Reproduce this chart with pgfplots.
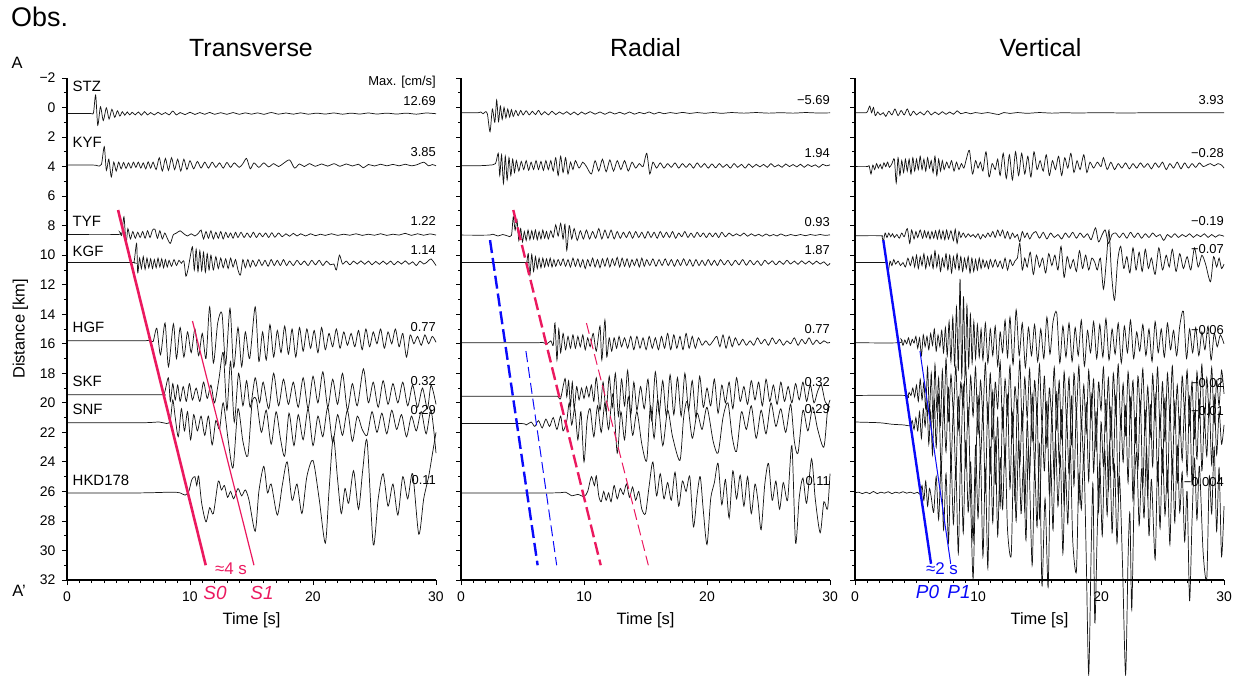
\documentclass[border=0pt]{standalone}
\usepackage{fontspec}
\setmainfont{Liberation Sans}
\usepackage{pgfplots}
\pgfplotsset{compat=1.18}
\definecolor{sred}{RGB}{235,25,95}
\definecolor{pblue}{RGB}{10,10,250}
\newcommand\fTick{\fontsize{14}{16}\selectfont}
\newcommand\fLab{\fontsize{15}{18}\selectfont}
\newcommand\fVal{\fontsize{13}{15}\selectfont}
\newcommand\fTitle{\fontsize{25}{30}\selectfont}
\newcommand\fObs{\fontsize{27}{32}\selectfont}
\newcommand\fAx{\fontsize{16.5}{20}\selectfont}
\newcommand\fAnn{\fontsize{17}{20}\selectfont}
\newcommand\fSP{\fontsize{19}{22}\selectfont\itshape}
\tikzset{
 lab/.style={anchor=mid west, inner sep=0pt, font=\fLab},
 val/.style={anchor=mid east, inner sep=0pt, font=\fVal},
 frame/.style={line width=2.8bp, black, line join=miter},
}
\pgfplotsset{
 seis/.style={
  scale only axis, width=369bp, height=502bp,
  xmin=0, xmax=30, ymin=-2, ymax=32, y dir=reverse,
  axis x line*=bottom, axis y line*=left,
  axis line style={line width=2.6bp, black},
  xtick={0,10,20,30}, xticklabels={0,10,20,30},
  minor x tick num=9, minor y tick num=1,
  ytick={-2,0,2,4,6,8,10,12,14,16,18,20,22,24,26,28,30,32},
  tick align=outside,
  major tick length=5bp, minor tick length=3bp,
  every tick/.style={black, line width=0.8bp},
  tick label style={font=\fTick},
  xticklabel style={yshift=-3bp},
  /pgf/number format/assume math mode=true,
  clip=false,
 },
 tr/.style={black!92, line width=0.72bp, smooth, tension=0.45},
}
\begin{document}
\begin{tikzpicture}
\path[use as bounding box] (0,0) rectangle (1242bp,676bp);
% ===================== Transverse =====================
\begin{axis}[seis, at={(67bp,96bp)}, anchor=south west,
  yticklabels={−2,0,2,4,6,8,10,12,14,16,18,20,22,24,26,28,30,32},
  yticklabel style={xshift=-3bp}]
\addplot[tr] coordinates {(0,0.4)(1.9,0.4)(2.15,0.36)(2.33,-0.85)(2.5,1.2)(2.72,-0.05)(2.95,0.88)(3.2,0.02)(3.42,0.78)(3.65,0.12)(3.88,0.66)(4.1,0.22)(4.3,0.58)(4.5,0.28)(4.7,0.52)(4.9,0.3)(5.1,0.5)(5.3,0.32)(5.55,0.5)(5.8,0.3)(6.05,0.52)(6.3,0.28)(6.55,0.5)(6.8,0.34)(7.1,0.5)(7.4,0.32)(7.7,0.48)(8.0,0.34)(8.3,0.5)(8.6,0.24)(8.9,0.5)(9.2,0.34)(9.6,0.48)(10,0.32)(10.4,0.47)(10.8,0.34)(11.2,0.46)(11.6,0.33)(12,0.46)(12.5,0.35)(13,0.46)(13.5,0.34)(14,0.46)(14.5,0.36)(15,0.45)(15.5,0.36)(16,0.46)(16.6,0.34)(17.2,0.45)(17.8,0.37)(18.4,0.45)(19,0.36)(19.6,0.45)(20.3,0.38)(21,0.44)(21.7,0.37)(22.4,0.45)(23.1,0.38)(23.8,0.44)(24.5,0.37)(25.2,0.44)(26,0.38)(26.8,0.44)(27.6,0.38)(28.4,0.45)(29.2,0.37)(30,0.42)};
\addplot[tr] coordinates {(0,3.9)(2.2,3.9)(2.5,3.95)(2.8,3.85)(3.03,2.65)(3.2,4.25)(3.4,3.5)(3.6,4.7)(3.8,3.7)(4.0,4.3)(4.2,3.7)(4.4,4.15)(4.6,3.72)(4.8,4.12)(5.0,3.75)(5.2,4.1)(5.4,3.7)(5.6,4.05)(5.8,3.7)(6.0,4.1)(6.2,3.75)(6.4,4.15)(6.6,3.68)(6.8,4.1)(7.0,3.7)(7.25,4.2)(7.5,3.4)(7.75,4.3)(8.0,3.45)(8.25,4.25)(8.5,3.4)(8.75,4.2)(9.0,3.5)(9.25,4.3)(9.5,3.5)(9.75,4.2)(10.0,3.6)(10.3,4.15)(10.6,3.65)(10.9,4.1)(11.2,3.7)(11.5,4.1)(11.8,3.7)(12.1,4.05)(12.4,3.75)(12.7,4.1)(13.0,3.72)(13.3,4.05)(13.6,3.75)(14.0,4.05)(14.3,3.8)(14.6,3.45)(14.9,4.15)(15.2,3.75)(15.6,4.05)(16.0,3.75)(16.4,4.02)(16.8,3.8)(17.2,4.0)(17.6,3.78)(18.1,3.55)(18.5,4.1)(18.9,3.82)(19.3,4.0)(19.7,3.8)(20.2,3.98)(20.7,3.82)(21.2,3.97)(21.7,3.8)(22.2,3.98)(22.7,3.82)(23.2,3.96)(23.7,3.84)(24.1,4.08)(24.5,3.86)(25,3.96)(25.5,3.84)(26,3.95)(26.5,3.85)(27,3.95)(27.5,3.84)(28,3.95)(28.5,3.86)(29,3.7)(29.4,3.95)(29.7,3.86)(30,3.95)};
\addplot[tr] coordinates {(0,8.6)(4.1,8.6)(4.3,8.45)(4.45,8.65)(4.63,7.4)(4.8,9.2)(4.95,8.2)(5.15,8.9)(5.35,8.4)(5.55,8.85)(5.75,8.45)(5.95,8.8)(6.15,8.4)(6.35,8.85)(6.55,8.35)(6.75,8.8)(6.95,8.3)(7.15,8.25)(7.35,8.85)(7.55,8.35)(7.75,8.9)(7.95,8.5)(8.15,8.85)(8.4,9.2)(8.65,8.6)(8.9,8.5)(9.2,8.35)(9.5,8.55)(9.8,8.7)(10.1,8.55)(10.4,8.7)(10.7,8.5)(10.9,8.3)(11.1,8.9)(11.3,8.4)(11.5,8.85)(11.7,8.35)(11.9,8.9)(12.1,8.45)(12.3,8.85)(12.5,8.4)(12.7,8.9)(12.9,8.45)(13.1,8.8)(13.3,8.5)(13.5,8.85)(13.7,8.45)(13.9,8.8)(14.15,8.45)(14.4,8.8)(14.65,8.5)(14.9,8.8)(15.15,8.45)(15.4,8.8)(15.65,8.5)(15.9,8.75)(16.15,8.5)(16.4,8.8)(16.65,8.48)(16.9,8.78)(17.2,8.5)(17.5,8.75)(17.8,8.55)(18.1,8.72)(18.4,8.52)(18.7,8.7)(19.0,8.55)(19.4,8.7)(19.8,8.55)(20.2,8.68)(20.6,8.58)(21.0,8.66)(21.5,8.55)(22,8.66)(22.5,8.58)(23,8.65)(23.5,8.55)(24,8.66)(24.5,8.58)(25,8.65)(25.5,8.55)(26,8.66)(26.5,8.58)(27,8.64)(27.5,8.52)(28,8.66)(28.5,8.55)(29,8.65)(29.5,8.56)(30,8.64)};
\addplot[tr] coordinates {(0,10.5)(5.2,10.5)(5.45,10.45)(5.66,9.2)(5.75,11.2)(5.9,10.2)(6.05,10.9)(6.2,10.1)(6.35,10.95)(6.5,10.2)(6.65,10.85)(6.8,10.25)(6.95,10.9)(7.1,10.3)(7.25,10.85)(7.4,10.2)(7.55,10.8)(7.7,10.25)(7.85,10.85)(8.0,10.3)(8.15,10.8)(8.3,10.35)(8.5,10.75)(8.7,10.3)(8.9,10.7)(9.1,10.35)(9.3,10.55)(9.5,10.4)(9.67,11.42)(9.85,10.9)(10.0,10.2)(10.2,9.44)(10.35,11.0)(10.5,9.6)(10.65,11.1)(10.8,9.7)(10.95,11.05)(11.1,9.8)(11.25,11.15)(11.4,9.9)(11.55,11.0)(11.7,10.0)(11.9,11.0)(12.1,10.1)(12.3,10.9)(12.5,10.2)(12.7,10.85)(12.9,10.25)(13.1,10.9)(13.3,10.2)(13.5,10.8)(13.7,10.3)(13.9,11.0)(14.1,11.35)(14.3,10.3)(14.5,10.85)(14.7,10.3)(14.9,10.8)(15.1,10.35)(15.35,10.75)(15.6,10.3)(15.85,10.7)(16.1,10.35)(16.35,10.75)(16.6,10.3)(16.85,10.7)(17.1,10.35)(17.35,10.7)(17.6,10.3)(17.85,10.7)(18.1,10.4)(18.4,10.7)(18.7,10.35)(19.0,10.65)(19.3,10.4)(19.6,10.7)(19.9,10.35)(20.2,10.65)(20.5,10.35)(20.8,10.7)(21.1,10.4)(21.4,10.65)(21.7,10.6)(21.9,11.0)(22.15,10.0)(22.4,10.6)(22.7,10.4)(23.0,10.65)(23.3,10.4)(23.6,10.6)(23.9,10.38)(24.2,10.62)(24.5,10.4)(24.8,10.65)(25.1,10.42)(25.4,10.62)(25.7,10.4)(26.0,10.62)(26.3,10.4)(26.6,10.65)(26.9,10.42)(27.2,10.6)(27.5,10.38)(27.8,10.62)(28.1,10.45)(28.4,10.7)(28.7,10.4)(29.0,10.6)(29.3,10.45)(29.6,10.25)(30,10.7)};
\addplot[tr] coordinates {(0,15.8)(6.0,15.8)(6.7,15.75)(7.0,15.85)(7.3,14.95)(7.6,16.75)(7.97,14.6)(8.25,17.55)(8.65,14.65)(8.9,17.0)(9.2,14.9)(9.5,16.9)(9.8,15.2)(10.1,16.6)(10.4,15.0)(10.7,16.8)(11.0,15.3)(11.3,17.0)(11.6,13.5)(11.9,17.3)(12.25,14.6)(12.6,13.95)(12.9,17.4)(13.25,13.6)(13.55,17.6)(13.9,14.9)(14.2,17.55)(14.5,15.2)(14.85,17.0)(15.3,13.5)(15.6,17.2)(15.9,15.2)(16.2,17.1)(16.5,14.7)(16.8,16.9)(17.1,15.1)(17.4,16.6)(17.7,14.8)(18.0,16.7)(18.3,15.0)(18.6,16.9)(18.9,14.9)(19.2,16.5)(19.5,15.0)(19.8,16.3)(20.1,15.1)(20.4,16.6)(20.7,14.9)(21.0,16.4)(21.3,15.3)(21.6,16.2)(21.9,15.0)(22.2,16.3)(22.5,15.2)(22.8,16.1)(23.1,15.3)(23.4,16.2)(23.7,15.1)(24.0,16.4)(24.3,15.0)(24.6,16.2)(24.9,15.2)(25.2,16.0)(25.5,15.0)(25.8,16.3)(26.1,15.2)(26.4,16.0)(26.7,15.0)(27.0,16.2)(27.3,15.3)(27.6,16.9)(27.9,15.4)(28.2,16.0)(28.5,15.5)(28.8,16.1)(29.1,15.4)(29.4,16.0)(29.7,15.5)(30,15.9)};
\addplot[tr] coordinates {(0,19.45)(7.5,19.45)(7.9,19.4)(8.24,18.3)(8.4,19.9)(8.6,18.7)(8.8,19.8)(9.0,18.8)(9.2,19.9)(9.45,18.9)(9.7,19.9)(9.95,18.7)(10.2,19.8)(10.5,19.0)(10.8,19.9)(11.1,18.6)(11.4,19.7)(11.7,18.8)(12.0,20.0)(12.35,18.4)(12.7,16.6)(13.0,20.5)(13.3,17.2)(13.6,21.3)(13.95,18.0)(14.3,20.2)(14.6,18.5)(14.9,20.3)(15.3,18.3)(15.65,20.0)(15.95,18.6)(16.4,20.4)(16.8,18.0)(17.2,20.2)(17.6,18.4)(18.0,20.1)(18.4,18.6)(18.8,20.3)(19.2,18.3)(19.6,20.4)(20.0,18.2)(20.4,20.0)(20.8,17.9)(21.2,20.3)(21.6,18.4)(22.0,20.1)(22.4,18.0)(22.8,20.5)(23.2,18.7)(23.6,20.2)(24.1,17.7)(24.5,20.0)(24.9,18.6)(25.3,20.3)(25.7,18.5)(26.1,20.1)(26.5,18.7)(26.9,20.0)(27.3,18.6)(27.7,20.2)(28.1,18.8)(28.5,20.3)(28.9,19.0)(29.3,20.4)(29.6,18.8)(30,20.1)};
\addplot[tr] coordinates {(0,21.35)(6.0,21.35)(7.5,21.3)(8.1,21.4)(8.4,21.2)(8.6,19.8)(8.8,21.0)(9.05,22.3)(9.3,20.4)(9.55,21.9)(9.8,20.6)(10.05,22.5)(10.3,20.8)(10.6,21.9)(10.9,20.9)(11.2,22.2)(11.5,20.9)(11.8,22.85)(12.1,21.2)(12.4,21.8)(12.7,20.0)(13.1,22.5)(13.5,24.4)(13.9,20.4)(14.3,22.6)(14.7,23.6)(15.05,20.0)(15.4,19.8)(15.8,22.0)(16.2,20.5)(16.6,22.8)(17.0,20.6)(17.35,22.4)(17.7,23.6)(18.05,20.7)(18.45,22.9)(18.8,20.8)(19.2,22.5)(19.6,20.4)(20.0,22.9)(20.4,20.9)(20.8,22.3)(21.2,20.3)(21.6,22.7)(22.0,20.8)(22.4,22.2)(22.8,20.5)(23.2,22.6)(23.6,20.9)(24.0,21.8)(24.4,22.2)(24.8,20.6)(25.2,22.0)(25.6,20.7)(26.0,22.1)(26.4,20.5)(26.8,21.8)(27.2,20.8)(27.6,22.3)(28.0,20.9)(28.4,21.9)(28.8,20.6)(29.2,22.1)(29.6,20.5)(30,23.4)};
\addplot[tr] coordinates {(0,26.1)(6,26.1)(8.5,26.05)(9.2,26.1)(9.6,26.25)(9.9,26.0)(10.15,25.2)(10.4,25.0)(10.55,25.6)(10.7,24.96)(10.95,26.8)(11.3,28.06)(11.6,27.1)(11.9,27.5)(12.3,25.3)(12.55,25.9)(12.8,25.6)(13.05,26.4)(13.3,26.0)(13.55,26.5)(13.9,25.8)(14.2,26.3)(14.5,25.9)(14.8,26.6)(15.3,28.7)(15.6,26.0)(16.0,24.3)(16.3,26.1)(16.6,25.5)(17.1,27.6)(17.5,25.6)(17.9,24.0)(18.3,26.6)(18.7,25.5)(19.1,27.5)(19.5,25.0)(20.0,23.9)(20.5,26.5)(21.0,29.5)(21.3,26.0)(21.65,22.3)(22.0,25.2)(22.3,27.5)(22.6,25.8)(22.9,26.8)(23.3,24.6)(23.7,27.2)(24.05,24.5)(24.4,22.6)(24.9,29.6)(25.3,26.5)(25.7,24.8)(26.1,27.0)(26.5,25.5)(26.9,27.6)(27.3,25.0)(27.7,26.5)(28.1,24.8)(28.6,28.9)(29.0,26.5)(29.4,25.0)(29.7,23.5)(30,22.0)};
\addplot[sred, line width=2.6bp] coordinates {(4.15,6.94)(11.28,31.0)};
\addplot[sred, line width=1.2bp] coordinates {(10.2,14.46)(15.2,31.0)};
\draw[frame] (axis cs:0,-2) -- (axis cs:0,32) -- (axis cs:30,32);
\node[lab] at (axis cs:0.45,-1.28) {STZ};
\node[lab] at (axis cs:0.45,2.52) {KYF};
\node[lab] at (axis cs:0.45,7.9) {TYF};
\node[lab] at (axis cs:0.45,9.88) {KGF};
\node[lab] at (axis cs:0.45,15.07) {HGF};
\node[lab] at (axis cs:0.45,18.72) {SKF};
\node[lab] at (axis cs:0.45,20.63) {SNF};
\node[lab] at (axis cs:0.45,25.4) {HKD178};
\node[val] at (axis cs:30,-1.66) {Max. [cm/s]};
\node[val] at (axis cs:30,-0.31) {12.69};
\node[val] at (axis cs:30,3.17) {3.85};
\node[val] at (axis cs:30,7.84) {1.22};
\node[val] at (axis cs:30,9.77) {1.14};
\node[val] at (axis cs:30,14.96) {0.77};
\node[val] at (axis cs:30,18.64) {0.32};
\node[val] at (axis cs:30,20.6) {0.29};
\node[val] at (axis cs:30,25.35) {0.11};
\end{axis}
% ===================== Radial =====================
\begin{axis}[seis, at={(461bp,96bp)}, anchor=south west, yticklabels={}]
\addplot[tr] coordinates {(0,0.35)(1.4,0.35)(1.6,0.3)(1.8,0.42)(2.0,0.28)(2.15,0.45)(2.36,1.64)(2.55,0.1)(2.75,1.0)(2.9,-0.5)(3.05,0.95)(3.2,-0.1)(3.35,0.8)(3.5,0.0)(3.65,0.7)(3.8,0.1)(3.95,0.65)(4.1,0.15)(4.25,0.6)(4.45,0.2)(4.65,0.55)(4.85,0.2)(5.05,0.5)(5.3,0.22)(5.55,0.5)(5.8,0.25)(6.05,0.48)(6.3,0.2)(6.55,0.5)(6.8,0.28)(7.1,0.5)(7.4,0.25)(7.7,0.48)(8.0,0.3)(8.3,0.45)(8.6,0.28)(8.9,0.48)(9.2,0.3)(9.5,0.5)(9.8,0.3)(10.1,0.45)(10.5,0.28)(10.9,0.45)(11.3,0.3)(11.7,0.46)(12.1,0.3)(12.5,0.44)(12.9,0.32)(13.3,0.45)(13.7,0.3)(14.1,0.45)(14.5,0.33)(14.9,0.42)(15.3,0.3)(15.7,0.44)(16.1,0.32)(16.5,0.42)(17,0.34)(17.5,0.4)(18,0.33)(18.6,0.4)(19.2,0.34)(19.8,0.39)(20.5,0.34)(21.2,0.39)(22,0.34)(23,0.38)(24,0.34)(25,0.38)(26,0.35)(27,0.38)(28,0.34)(29,0.37)(30,0.36)};
\addplot[tr] coordinates {(0,3.94)(1.5,3.94)(2.3,3.9)(2.8,3.8)(3.03,3.1)(3.15,4.6)(3.3,3.2)(3.45,5.14)(3.6,3.3)(3.75,4.9)(3.9,3.4)(4.05,4.6)(4.2,3.5)(4.35,4.4)(4.5,3.6)(4.7,4.3)(4.9,3.65)(5.1,4.2)(5.3,3.6)(5.5,4.25)(5.7,3.7)(5.9,4.2)(6.1,3.6)(6.3,4.2)(6.5,3.65)(6.7,4.25)(6.9,3.6)(7.1,4.2)(7.3,3.6)(7.5,4.3)(7.7,3.4)(7.9,4.6)(8.1,3.3)(8.3,4.4)(8.5,3.4)(8.7,4.5)(8.9,3.7)(9.1,4.2)(9.3,3.6)(9.6,4.1)(9.9,3.7)(10.2,4.0)(10.6,4.5)(10.9,3.6)(11.2,4.3)(11.5,3.5)(11.8,4.35)(12.1,3.55)(12.4,4.3)(12.7,3.6)(13.0,4.2)(13.3,3.6)(13.6,4.3)(13.9,3.7)(14.2,4.1)(14.5,3.8)(14.8,4.0)(15.1,3.1)(15.35,4.5)(15.6,3.7)(15.9,4.1)(16.2,3.75)(16.5,4.1)(16.8,3.8)(17.1,4.05)(17.4,3.75)(17.7,4.1)(18.0,3.8)(18.3,4.05)(18.6,3.8)(18.9,4.1)(19.2,3.75)(19.5,4.05)(19.8,3.8)(20.1,4.1)(20.4,3.82)(20.7,4.08)(21.0,3.8)(21.3,4.05)(21.6,3.85)(21.9,4.1)(22.2,3.8)(22.5,4.05)(22.8,3.85)(23.1,4.1)(23.4,3.82)(23.7,4.05)(24.0,3.85)(24.3,4.02)(24.6,3.85)(24.9,4.05)(25.2,3.8)(25.5,4.02)(25.8,3.88)(26.1,4.05)(26.4,3.82)(26.7,4.0)(27.0,3.86)(27.3,4.02)(27.6,3.84)(27.9,4.05)(28.2,3.86)(28.5,4.0)(28.8,3.88)(29.1,4.05)(29.4,3.85)(29.7,3.95)(30,3.88)};
\addplot[tr] coordinates {(0,8.64)(2.2,8.64)(2.6,8.58)(3.0,8.7)(3.4,8.6)(3.8,8.7)(4.1,8.66)(4.25,7.4)(4.4,8.3)(4.55,7.6)(4.7,9.0)(4.85,8.2)(5.0,9.1)(5.15,8.4)(5.3,9.0)(5.45,8.3)(5.6,8.95)(5.75,8.35)(5.9,8.9)(6.05,8.3)(6.2,8.95)(6.35,8.4)(6.5,8.9)(6.65,8.3)(6.8,8.85)(6.95,8.4)(7.1,8.9)(7.3,8.35)(7.5,8.8)(7.7,7.95)(7.9,8.7)(8.1,7.85)(8.3,8.9)(8.45,7.9)(8.6,9.66)(8.8,8.0)(9.0,8.9)(9.2,8.2)(9.45,9.0)(9.7,8.35)(9.95,8.9)(10.2,8.3)(10.45,8.9)(10.7,8.4)(10.95,8.85)(11.2,8.2)(11.45,8.9)(11.7,8.3)(11.95,8.85)(12.2,8.3)(12.45,8.9)(12.7,8.4)(12.95,8.85)(13.2,8.45)(13.45,8.8)(13.7,8.4)(13.95,8.85)(14.2,8.4)(14.45,8.8)(14.7,8.45)(14.95,8.85)(15.2,8.4)(15.45,8.8)(15.7,8.45)(15.95,8.85)(16.2,8.4)(16.45,8.8)(16.7,8.45)(16.95,8.8)(17.2,8.4)(17.45,8.85)(17.7,8.5)(17.95,8.75)(18.2,8.4)(18.45,8.8)(18.7,8.5)(18.95,8.8)(19.2,8.45)(19.45,8.75)(19.7,8.5)(19.95,8.8)(20.2,8.5)(20.45,8.75)(20.7,8.5)(20.95,8.8)(21.2,8.45)(21.5,8.75)(21.8,8.5)(22.1,8.7)(22.4,8.55)(22.7,8.7)(23.0,8.5)(23.3,8.72)(23.6,8.55)(23.9,8.7)(24.2,8.58)(24.5,8.72)(24.8,8.56)(25.1,8.7)(25.4,8.6)(25.7,8.7)(26.0,8.56)(26.4,8.7)(26.8,8.6)(27.2,8.68)(27.6,8.6)(28.0,8.68)(28.4,8.6)(28.8,8.66)(29.2,8.6)(29.6,8.66)(30,8.62)};
\addplot[tr] coordinates {(0,10.5)(5.2,10.5)(5.35,10.45)(5.47,9.9)(5.6,11.36)(5.75,9.95)(5.9,11.1)(6.05,10.1)(6.2,10.9)(6.35,10.2)(6.5,10.85)(6.65,10.2)(6.8,10.8)(6.95,10.25)(7.1,10.75)(7.25,10.2)(7.4,10.8)(7.55,10.3)(7.7,10.75)(7.9,10.3)(8.1,10.7)(8.3,10.25)(8.5,10.75)(8.7,10.3)(8.9,10.8)(9.1,10.2)(9.3,10.75)(9.5,10.25)(9.7,10.8)(9.9,10.3)(10.1,10.9)(10.3,10.3)(10.5,10.75)(10.7,10.2)(10.9,10.8)(11.1,10.3)(11.3,10.85)(11.5,10.25)(11.7,10.75)(11.9,10.2)(12.1,10.8)(12.3,10.25)(12.5,10.7)(12.7,10.15)(12.9,10.8)(13.1,10.2)(13.3,10.75)(13.5,10.25)(13.7,10.8)(13.9,10.3)(14.1,10.7)(14.3,10.25)(14.5,10.8)(14.7,10.2)(14.9,10.75)(15.1,10.3)(15.35,10.7)(15.6,10.25)(15.85,10.75)(16.1,10.3)(16.35,10.7)(16.6,10.25)(16.85,10.7)(17.1,10.3)(17.35,10.75)(17.6,10.3)(17.85,10.7)(18.1,10.25)(18.35,10.7)(18.6,10.3)(18.85,10.75)(19.1,10.3)(19.35,10.7)(19.6,10.35)(19.85,10.7)(20.1,10.3)(20.35,10.68)(20.6,10.35)(20.85,10.7)(21.1,10.3)(21.4,10.65)(21.7,10.35)(22.0,10.7)(22.3,10.35)(22.6,10.65)(22.9,10.3)(23.2,10.68)(23.5,10.35)(23.8,10.65)(24.1,10.38)(24.4,10.7)(24.7,10.35)(25.0,10.6)(25.3,10.38)(25.6,10.65)(25.9,10.4)(26.2,10.62)(26.5,10.35)(26.8,10.6)(27.1,10.4)(27.4,10.62)(27.7,10.38)(28.0,10.6)(28.3,10.4)(28.6,10.62)(28.9,10.4)(29.2,10.6)(29.5,10.45)(29.8,10.7)(30,10.55)};
\addplot[tr] coordinates {(0,15.93)(6.0,15.93)(6.6,15.9)(7.0,16.0)(7.3,15.8)(7.5,16.1)(7.64,14.6)(7.8,17.1)(7.95,15.0)(8.1,16.6)(8.3,15.3)(8.5,16.4)(8.7,15.5)(8.9,16.3)(9.1,15.4)(9.3,16.3)(9.5,15.5)(9.7,16.2)(9.9,15.4)(10.1,16.4)(10.3,15.6)(10.5,16.2)(10.75,15.3)(11.0,16.5)(11.3,14.8)(11.45,17.1)(11.7,14.4)(11.85,16.9)(12.05,15.6)(12.25,16.5)(12.45,15.6)(12.65,16.3)(12.85,15.5)(13.05,16.2)(13.3,15.6)(13.55,16.3)(13.8,15.5)(14.05,16.4)(14.3,15.5)(14.55,16.3)(14.8,15.6)(15.05,16.4)(15.3,15.5)(15.55,16.3)(15.8,15.6)(16.05,16.4)(16.3,15.5)(16.55,16.3)(16.8,15.3)(17.05,16.4)(17.3,15.4)(17.55,16.3)(17.8,15.5)(18.05,16.4)(18.3,15.3)(18.55,16.3)(18.8,15.5)(19.05,16.3)(19.3,15.6)(19.6,16.1)(19.9,15.8)(20.2,16.1)(20.5,15.8)(20.8,15.5)(21.05,16.2)(21.3,15.4)(21.55,16.3)(21.8,15.5)(22.05,16.2)(22.3,15.6)(22.6,16.1)(22.9,15.7)(23.2,16.1)(23.5,15.8)(23.8,16.1)(24.1,15.6)(24.4,16.0)(24.7,15.7)(25.0,16.1)(25.3,15.6)(25.6,16.0)(25.9,15.7)(26.2,16.1)(26.5,15.8)(26.8,16.0)(27.1,15.6)(27.4,16.1)(27.7,15.7)(28.0,16.0)(28.3,15.6)(28.6,16.05)(28.9,15.75)(29.2,16.0)(29.5,15.8)(29.8,15.95)(30,15.9)};
\addplot[tr] coordinates {(0,19.55)(7.4,19.55)(7.9,19.6)(8.1,19.7)(8.46,18.35)(8.6,19.6)(8.75,18.5)(8.9,20.2)(9.05,18.6)(9.2,20.4)(9.4,18.9)(9.6,19.8)(9.8,19.0)(10.0,19.7)(10.2,18.9)(10.4,19.6)(10.6,18.8)(10.8,19.9)(11.0,18.3)(11.3,20.5)(11.55,18.6)(11.8,20.6)(12.05,18.2)(12.3,20.3)(12.55,18.0)(12.8,20.9)(13.05,18.4)(13.3,20.2)(13.55,17.8)(13.8,20.8)(14.05,18.6)(14.3,20.5)(14.6,18.9)(14.9,20.4)(15.2,18.4)(15.5,21.2)(15.8,17.9)(16.1,20.7)(16.4,18.5)(16.7,20.9)(17.0,18.1)(17.3,20.8)(17.6,18.3)(17.9,20.9)(18.2,18.0)(18.5,20.5)(18.8,18.5)(19.1,21.0)(19.4,18.2)(19.7,20.3)(20.0,19.0)(20.3,20.2)(20.6,18.4)(20.9,20.7)(21.2,18.8)(21.5,20.0)(21.8,18.6)(22.1,20.4)(22.4,18.3)(22.7,19.9)(23.0,18.9)(23.3,20.1)(23.6,18.5)(23.9,19.8)(24.2,18.6)(24.5,20.2)(24.8,18.4)(25.1,19.9)(25.4,18.8)(25.7,20.1)(26.0,18.6)(26.3,19.9)(26.6,18.9)(26.9,20.0)(27.2,18.7)(27.5,19.8)(27.8,18.6)(28.1,19.9)(28.4,18.8)(28.7,20.0)(29.0,19.2)(29.3,18.8)(29.6,19.9)(30,20.3)};
\addplot[tr] coordinates {(0,21.4)(4.8,21.4)(5.3,21.5)(5.7,21.3)(6.0,21.6)(6.3,21.2)(6.6,21.7)(6.9,21.1)(7.2,21.6)(7.5,21.0)(7.8,21.8)(8.1,20.9)(8.3,21.9)(8.6,21.2)(8.8,20.0)(9.0,21.5)(9.25,20.4)(9.5,22.5)(9.75,20.6)(10.0,24.0)(10.25,21.2)(10.5,20.4)(10.8,22.3)(11.1,20.2)(11.4,22.0)(11.7,20.0)(12.0,21.8)(12.35,19.4)(12.7,23.4)(13.0,20.6)(13.3,22.5)(13.6,19.6)(13.95,22.2)(14.3,20.6)(14.7,22.8)(15.1,23.9)(15.4,20.2)(15.7,22.4)(16.0,19.8)(16.4,22.9)(16.8,20.5)(17.2,22.3)(17.8,23.9)(18.1,21.0)(18.4,19.9)(18.8,22.4)(19.2,20.7)(19.6,21.8)(20.0,20.3)(20.5,22.6)(20.9,23.4)(21.3,21.0)(21.7,20.0)(22.05,22.3)(22.4,23.3)(22.8,20.6)(23.2,21.8)(23.6,20.2)(24.0,22.4)(24.4,20.5)(24.8,22.1)(25.2,20.0)(25.6,21.6)(26.0,20.4)(26.4,22.0)(26.8,20.1)(27.1,22.6)(27.4,23.4)(27.8,20.5)(28.2,21.9)(28.6,20.3)(29.0,21.8)(29.5,23.0)(29.8,20.5)(30,19.8)};
\addplot[tr] coordinates {(0,26.1)(7.5,26.1)(8.5,26.05)(9.0,26.3)(9.5,26.2)(10.0,26.35)(10.3,26.0)(10.6,25.0)(10.85,25.6)(11.0,24.95)(11.2,26.3)(11.4,26.7)(11.6,26.0)(11.8,26.6)(12.0,26.1)(12.2,26.7)(12.45,25.6)(12.7,26.5)(12.95,25.8)(13.2,26.2)(13.45,25.5)(13.7,26.4)(13.95,25.7)(14.2,26.6)(14.45,26.0)(14.7,27.2)(15.0,27.5)(15.3,25.6)(15.6,24.0)(15.9,26.3)(16.2,24.8)(16.5,26.5)(16.8,25.4)(17.1,26.6)(17.4,24.7)(17.7,27.0)(18.0,25.3)(18.3,26.0)(18.6,25.0)(18.9,28.4)(19.2,26.2)(19.45,25.0)(19.7,27.3)(20.0,29.6)(20.3,26.5)(20.6,25.4)(20.9,24.1)(21.2,26.9)(21.5,25.2)(21.8,27.8)(22.1,24.6)(22.4,26.5)(22.7,24.9)(23.0,27.0)(23.3,25.0)(23.6,27.5)(23.9,25.5)(24.15,26.7)(24.4,28.6)(24.7,25.5)(25.0,24.1)(25.3,26.6)(25.6,25.3)(25.9,27.2)(26.2,25.4)(26.55,26.6)(26.9,22.9)(27.2,29.5)(27.5,26.4)(27.8,25.1)(28.1,26.8)(28.5,23.8)(28.8,26.5)(29.2,28.8)(29.5,26.7)(29.8,27.2)(30,24.8)};
\addplot[pblue, line width=2.4bp, dash pattern=on 13bp off 5bp] coordinates {(2.36,8.98)(6.23,31.0)};
\addplot[pblue, line width=1bp, dash pattern=on 11bp off 5bp] coordinates {(5.28,16.5)(7.78,31.0)};
\addplot[sred, line width=2.4bp, dash pattern=on 13bp off 5bp] coordinates {(4.25,6.94)(11.36,31.0)};
\addplot[sred, line width=1bp, dash pattern=on 11bp off 5bp] coordinates {(10.2,14.6)(15.23,31.0)};
\draw[frame] (axis cs:0,-2) -- (axis cs:0,32) -- (axis cs:30,32);
\node[val] at (axis cs:30,-0.39) {−5.69};
\node[val] at (axis cs:30,3.22) {1.94};
\node[val] at (axis cs:30,7.89) {0.93};
\node[val] at (axis cs:30,9.77) {1.87};
\node[val] at (axis cs:30,15.1) {0.77};
\node[val] at (axis cs:30,18.73) {0.32};
\node[val] at (axis cs:30,20.54) {0.29};
\node[val] at (axis cs:30,25.42) {0.11};
\end{axis}
% ===================== Vertical =====================
\begin{axis}[seis, at={(855bp,96bp)}, anchor=south west, yticklabels={}]
\addplot[tr] coordinates {(0,0.35)(0.9,0.35)(1.05,0.2)(1.2,-0.1)(1.35,0.35)(1.5,0.0)(1.65,0.55)(1.85,0.3)(2.05,0.5)(2.3,0.35)(2.5,0.6)(2.75,0.25)(3.0,0.5)(3.25,0.1)(3.5,0.55)(3.75,0.2)(4.0,0.5)(4.25,0.1)(4.5,0.55)(4.75,0.25)(5.0,0.5)(5.3,0.3)(5.6,0.5)(5.9,0.22)(6.2,0.5)(6.5,0.3)(6.8,0.48)(7.1,0.28)(7.4,0.46)(7.7,0.3)(8.0,0.46)(8.3,0.22)(8.6,0.42)(9.0,0.33)(9.4,0.42)(9.8,0.34)(10.3,0.4)(10.8,0.34)(11.3,0.42)(11.7,0.47)(12.1,0.34)(12.6,0.4)(13.2,0.34)(14,0.39)(15,0.34)(16,0.38)(17,0.35)(18,0.37)(20,0.35)(22,0.37)(24,0.35)(26,0.36)(28,0.35)(30,0.35)};
\addplot[tr] coordinates {(0,4.0)(1.0,4.0)(1.15,3.95)(1.3,4.5)(1.45,3.9)(1.6,4.2)(1.75,3.8)(1.9,4.1)(2.05,3.85)(2.2,4.15)(2.35,3.75)(2.5,4.0)(2.65,3.7)(2.8,4.05)(3.0,3.8)(3.2,3.5)(3.35,5.1)(3.5,3.4)(3.65,4.6)(3.8,3.6)(3.95,4.4)(4.1,3.5)(4.25,4.3)(4.4,3.5)(4.55,4.5)(4.7,3.4)(4.85,4.3)(5.0,3.5)(5.15,4.2)(5.3,3.3)(5.45,4.2)(5.6,3.5)(5.75,4.3)(5.9,3.4)(6.05,4.1)(6.2,3.6)(6.35,4.4)(6.5,3.3)(6.65,4.6)(6.8,3.5)(6.95,4.3)(7.1,3.6)(7.25,4.2)(7.45,3.7)(7.65,4.1)(7.85,3.6)(8.05,4.3)(8.25,3.7)(8.45,4.2)(8.65,3.8)(8.85,4.1)(9.05,3.5)(9.3,2.9)(9.55,4.5)(9.8,3.6)(10.0,4.1)(10.2,3.7)(10.4,4.3)(10.65,3.0)(10.9,4.7)(11.15,3.8)(11.4,4.2)(11.6,3.5)(11.8,4.6)(12.05,3.1)(12.3,4.8)(12.55,3.2)(12.8,4.9)(13.05,3.0)(13.3,4.6)(13.55,3.1)(13.8,4.5)(14.05,3.3)(14.3,4.7)(14.55,3.0)(14.8,4.2)(15.05,3.6)(15.3,4.3)(15.55,3.2)(15.8,4.6)(16.05,3.6)(16.3,4.2)(16.55,3.3)(16.8,4.6)(17.05,3.4)(17.3,4.1)(17.55,3.1)(17.8,4.4)(18.05,3.6)(18.3,4.2)(18.6,3.2)(18.85,4.4)(19.1,3.7)(19.4,4.1)(19.7,3.7)(20.0,4.0)(20.2,3.4)(20.5,4.2)(20.8,3.7)(21.1,4.2)(21.4,3.8)(21.7,4.1)(22.0,3.75)(22.3,4.15)(22.6,3.8)(22.9,4.1)(23.2,3.75)(23.5,4.05)(23.8,3.8)(24.1,4.15)(24.4,3.75)(24.7,4.05)(25.0,3.7)(25.3,4.2)(25.6,3.8)(25.9,4.1)(26.2,3.7)(26.5,4.15)(26.8,3.75)(27.1,4.1)(27.4,3.8)(27.7,4.05)(28.0,3.75)(28.3,4.0)(28.6,3.9)(28.9,3.8)(29.2,3.95)(29.5,3.8)(29.8,3.9)(30,4.1)};
\addplot[tr] coordinates {(0,8.68)(2.1,8.68)(2.2,8.75)(2.3,9.05)(2.45,8.5)(2.6,8.8)(2.75,8.5)(2.9,8.75)(3.05,8.55)(3.2,8.8)(3.4,8.6)(3.6,8.85)(3.8,8.5)(4.0,8.75)(4.25,8.2)(4.45,9.2)(4.6,8.3)(4.8,8.9)(4.95,8.4)(5.1,8.8)(5.3,8.3)(5.5,8.85)(5.65,8.35)(5.8,8.8)(5.95,8.4)(6.1,8.9)(6.25,8.4)(6.4,8.85)(6.55,8.35)(6.7,8.9)(6.85,8.3)(7.0,8.9)(7.15,8.35)(7.3,8.95)(7.45,8.3)(7.6,8.9)(7.8,8.35)(8.0,9.0)(8.15,8.25)(8.3,9.2)(8.45,8.4)(8.6,8.8)(8.8,8.5)(9.0,8.8)(9.2,8.55)(9.4,8.75)(9.6,8.6)(9.8,8.8)(10.0,8.55)(10.2,8.9)(10.4,8.6)(10.6,8.8)(10.8,8.5)(11.0,8.75)(11.2,8.4)(11.4,8.8)(11.6,8.3)(11.8,8.7)(12.0,8.3)(12.2,8.85)(12.4,8.4)(12.6,8.9)(12.8,8.5)(13.0,8.8)(13.2,8.6)(13.4,9.1)(13.6,8.4)(13.8,8.8)(14.0,8.5)(14.2,8.9)(14.4,8.6)(14.7,8.4)(15.0,8.85)(15.3,8.45)(15.6,8.9)(15.9,8.5)(16.2,8.8)(16.5,8.6)(16.8,8.9)(17.1,8.5)(17.4,8.8)(17.7,8.45)(18.0,8.85)(18.3,8.5)(18.6,8.8)(18.9,8.55)(19.2,8.95)(19.55,8.15)(19.8,9.1)(20.1,8.6)(20.35,8.3)(20.6,9.2)(20.9,8.6)(21.2,8.5)(21.5,8.8)(21.8,8.5)(22.1,8.85)(22.4,8.45)(22.7,8.8)(23.0,8.5)(23.3,8.85)(23.6,8.55)(23.9,8.8)(24.2,8.5)(24.5,8.75)(24.8,8.6)(25.1,9.0)(25.4,8.6)(25.7,8.8)(26.0,8.55)(26.3,8.8)(26.6,8.6)(26.9,8.75)(27.2,8.55)(27.5,8.8)(27.8,8.6)(28.1,8.75)(28.4,8.55)(28.7,8.8)(29.0,8.6)(29.3,8.78)(29.6,8.62)(30,8.72)};
\addplot[tr] coordinates {(0,10.5)(2.4,10.5)(2.55,10.6)(2.7,11.1)(2.85,10.4)(3.0,10.7)(3.15,10.3)(3.3,10.6)(3.5,10.4)(3.7,10.7)(3.9,10.5)(4.1,10.8)(4.3,10.2)(4.5,10.7)(4.7,10.1)(4.85,10.8)(5.0,10.0)(5.15,10.9)(5.3,10.1)(5.45,10.7)(5.6,9.9)(5.75,10.9)(5.9,10.1)(6.05,10.7)(6.2,10.0)(6.35,10.9)(6.5,9.7)(6.65,10.8)(6.8,10.0)(6.95,11.1)(7.1,10.2)(7.25,10.8)(7.4,9.9)(7.55,11.0)(7.7,10.0)(7.85,11.2)(8.0,10.1)(8.15,10.9)(8.3,9.9)(8.45,11.0)(8.6,10.1)(8.75,11.1)(8.9,10.2)(9.05,10.9)(9.2,10.1)(9.35,11.2)(9.5,10.2)(9.65,11.1)(9.8,10.3)(9.95,11.0)(10.1,10.2)(10.25,10.9)(10.4,10.3)(10.55,10.8)(10.7,10.4)(10.85,10.9)(11.0,10.3)(11.2,10.8)(11.4,10.3)(11.6,10.8)(11.8,10.4)(12.0,10.9)(12.2,10.2)(12.4,11.0)(12.6,10.3)(12.8,10.7)(13.0,10.4)(13.2,10.2)(13.4,9.2)(13.6,11.0)(13.8,10.2)(14.0,10.8)(14.25,9.8)(14.5,11.3)(14.75,10.0)(15.0,10.8)(15.25,10.2)(15.5,11.2)(15.75,9.9)(16.0,10.7)(16.25,10.0)(16.5,11.0)(16.75,9.4)(17.0,11.5)(17.25,10.1)(17.5,10.9)(17.75,10.3)(18.0,11.1)(18.25,9.7)(18.5,10.9)(18.75,10.0)(19.0,11.0)(19.25,10.2)(19.5,10.5)(19.7,11.0)(19.95,10.2)(20.2,12.3)(20.45,10.2)(20.65,8.3)(20.85,11.2)(21.1,13.05)(21.35,10.4)(21.6,9.4)(21.85,10.9)(22.1,10.1)(22.35,11.2)(22.6,9.5)(22.85,11.0)(23.1,9.8)(23.35,11.1)(23.6,9.6)(23.85,10.9)(24.1,10.2)(24.4,11.3)(24.7,9.5)(25.0,11.0)(25.3,10.0)(25.55,10.8)(25.8,9.6)(26.1,11.1)(26.4,9.9)(26.7,10.9)(27.0,10.1)(27.3,11.0)(27.6,9.5)(27.9,10.8)(28.2,10.0)(28.5,10.6)(28.9,11.8)(29.15,10.1)(29.4,10.8)(29.6,10.2)(29.8,10.9)(30,10.6)};
\addplot[tr] coordinates {(0,15.93)(3.6,15.93)(3.75,15.7)(3.9,16.1)(4.05,15.75)(4.2,16.0)(4.35,15.6)(4.5,16.1)(4.65,15.7)(4.8,15.95)(4.95,15.5)(5.1,16.3)(5.25,15.6)(5.4,16.8)(5.55,15.4)(5.7,16.2)(5.85,15.5)(6.0,16.4)(6.15,15.3)(6.3,16.1)(6.45,15.0)(6.6,16.5)(6.75,15.4)(6.9,16.2)(7.05,15.1)(7.2,16.6)(7.35,14.9)(7.5,16.8)(7.65,14.5)(7.8,17.2)(7.95,14.2)(8.1,17.5)(8.25,13.5)(8.4,17.8)(8.54,11.6)(8.68,18.3)(8.82,12.8)(8.96,18.0)(9.1,13.4)(9.24,17.6)(9.38,14.0)(9.52,17.3)(9.66,14.5)(9.8,17.0)(9.95,14.7)(10.1,16.9)(10.25,15.0)(10.4,17.1)(10.6,14.6)(10.8,17.3)(11.0,15.0)(11.2,16.8)(11.4,14.8)(11.6,17.5)(11.8,15.2)(12.0,16.6)(12.2,14.4)(12.4,16.9)(12.6,14.2)(12.85,17.4)(13.1,13.7)(13.35,16.8)(13.6,14.6)(13.85,17.6)(14.1,14.9)(14.35,16.8)(14.6,14.7)(14.85,17.2)(15.1,15.0)(15.35,17.0)(15.6,14.2)(15.85,16.7)(16.1,14.5)(16.4,13.9)(16.65,17.3)(16.9,14.8)(17.15,16.9)(17.4,14.6)(17.65,17.2)(17.9,14.9)(18.15,16.8)(18.4,14.4)(18.65,17.5)(18.9,15.1)(19.15,16.6)(19.4,14.5)(19.65,17.0)(19.9,14.7)(20.15,16.9)(20.4,14.3)(20.65,17.1)(20.9,15.0)(21.15,16.7)(21.4,14.6)(21.65,17.3)(21.9,14.8)(22.15,16.6)(22.4,14.4)(22.65,17.0)(22.9,15.2)(23.15,16.5)(23.4,14.7)(23.65,16.8)(23.9,15.0)(24.15,17.2)(24.4,14.5)(24.65,16.6)(24.9,15.0)(25.15,16.9)(25.4,14.6)(25.65,16.4)(25.9,15.1)(26.15,16.8)(26.4,14.8)(26.7,13.8)(26.95,17.0)(27.2,15.0)(27.45,16.6)(27.7,14.9)(27.95,16.8)(28.2,15.2)(28.45,16.4)(28.7,14.8)(28.95,17.1)(29.2,15.3)(29.45,16.2)(29.7,15.4)(30,16.0)};
\addplot[tr] coordinates {(0,19.5)(4.1,19.5)(4.25,19.7)(4.4,19.3)(4.55,19.5)(4.7,19.0)(4.85,19.6)(5.0,18.8)(5.15,19.9)(5.3,18.4)(5.45,19.8)(5.6,18.6)(5.75,20.4)(5.9,17.6)(6.05,20.8)(6.2,18.0)(6.35,21.3)(6.5,17.4)(6.65,20.5)(6.8,18.3)(6.95,21.5)(7.1,17.8)(7.25,20.9)(7.4,17.0)(7.6,21.2)(7.8,18.1)(8.0,20.6)(8.2,17.5)(8.4,21.8)(8.6,18.6)(8.8,20.3)(9.0,17.4)(9.2,21.6)(9.4,18.2)(9.6,20.9)(9.8,17.6)(10.0,22.1)(10.2,18.5)(10.4,20.7)(10.6,17.3)(10.8,21.4)(11.0,18.0)(11.2,22.4)(11.4,18.6)(11.6,20.4)(11.8,17.2)(12.0,21.7)(12.2,18.4)(12.4,20.8)(12.6,17.5)(12.8,22.3)(13.0,18.9)(13.2,20.5)(13.4,17.1)(13.6,21.9)(13.8,18.3)(14.0,21.0)(14.2,17.7)(14.4,22.6)(14.6,18.5)(14.8,20.6)(15.0,17.4)(15.2,21.5)(15.4,18.2)(15.6,23.0)(15.8,19.0)(16.0,20.9)(16.2,17.6)(16.4,21.8)(16.6,18.5)(16.8,22.4)(17.0,17.9)(17.2,21.2)(17.4,18.3)(17.6,22.8)(17.8,18.0)(18.0,20.7)(18.2,17.5)(18.4,21.6)(18.6,18.8)(18.8,22.0)(19.0,17.8)(19.2,21.1)(19.4,18.4)(19.6,23.2)(19.8,18.6)(20.0,20.5)(20.2,17.6)(20.4,21.9)(20.6,18.3)(20.8,22.5)(21.0,18.0)(21.2,20.8)(21.4,17.4)(21.6,21.6)(21.8,18.7)(22.0,22.2)(22.2,17.9)(22.4,21.0)(22.6,18.5)(22.8,22.7)(23.0,18.2)(23.2,20.6)(23.4,17.7)(23.6,21.8)(23.8,18.9)(24.0,22.3)(24.2,18.1)(24.4,21.2)(24.6,17.6)(24.8,21.9)(25.0,18.6)(25.2,22.6)(25.4,18.0)(25.6,20.9)(25.8,17.5)(26.0,21.7)(26.2,18.8)(26.4,22.1)(26.6,18.2)(26.8,20.6)(27.0,17.8)(27.2,21.5)(27.4,18.6)(27.6,22.4)(27.8,17.9)(28.0,21.0)(28.2,17.4)(28.4,21.7)(28.6,18.3)(28.8,20.8)(29.0,17.6)(29.2,21.4)(29.4,18.5)(29.6,20.2)(29.8,17.8)(30,19.4)};
\addplot[tr] coordinates {(0,21.3)(2.0,21.35)(3.0,21.45)(4.0,21.5)(4.5,21.55)(4.65,21.2)(4.8,21.8)(4.95,21.0)(5.1,21.9)(5.25,20.6)(5.4,22.4)(5.55,20.4)(5.7,21.6)(5.85,20.0)(6.0,22.8)(6.15,20.6)(6.3,23.5)(6.45,19.8)(6.6,23.0)(6.8,19.4)(7.0,24.6)(7.2,20.2)(7.4,23.3)(7.6,19.0)(7.8,24.2)(8.0,20.5)(8.2,25.0)(8.4,19.6)(8.6,23.6)(8.8,18.8)(9.0,24.4)(9.2,20.3)(9.4,26.5)(9.6,31.9)(9.8,25.2)(10.0,19.5)(10.2,23.8)(10.4,20.6)(10.6,26.0)(10.8,20.0)(11.0,24.7)(11.2,19.2)(11.4,25.5)(11.6,21.0)(11.8,27.0)(12.0,20.3)(12.2,24.4)(12.4,19.5)(12.6,25.8)(12.8,20.7)(13.0,26.6)(13.2,19.8)(13.4,24.2)(13.6,20.6)(13.8,27.3)(14.0,21.2)(14.2,25.0)(14.4,19.4)(14.6,24.5)(14.8,20.2)(15.0,27.8)(15.2,21.5)(15.4,24.6)(15.6,19.9)(15.8,26.2)(16.0,20.8)(16.2,25.2)(16.4,19.3)(16.6,24.1)(16.8,20.5)(17.0,26.9)(17.2,21.0)(17.4,24.8)(17.6,19.6)(17.8,25.6)(18.0,20.4)(18.2,26.8)(18.4,21.2)(18.6,24.0)(18.8,20.0)(19.0,25.3)(19.2,19.4)(19.4,24.7)(19.6,20.6)(19.8,27.4)(20.0,21.3)(20.2,24.3)(20.4,19.8)(20.6,25.9)(20.8,20.3)(21.0,24.6)(21.2,19.5)(21.4,26.3)(21.6,20.9)(21.8,24.0)(22.0,20.2)(22.2,25.4)(22.4,19.7)(22.6,26.6)(22.8,21.0)(23.0,24.5)(23.2,19.9)(23.4,25.7)(23.6,20.6)(23.8,26.4)(24.0,20.1)(24.2,24.3)(24.4,19.4)(24.6,25.3)(24.8,20.8)(25.0,24.7)(25.2,19.7)(25.4,26.0)(25.6,20.4)(25.8,24.8)(26.0,19.9)(26.2,25.4)(26.4,21.0)(26.6,23.9)(26.8,20.2)(27.0,24.9)(27.2,19.6)(27.4,25.5)(27.6,20.7)(27.8,23.8)(28.0,19.8)(28.2,24.6)(28.4,21.1)(28.6,23.6)(28.8,20.0)(29.0,24.2)(29.2,19.5)(29.4,23.5)(29.6,20.6)(29.8,22.8)(30,21.5)};
\addplot[tr] coordinates {(0,26.1)(0.3,26.05)(0.6,26.15)(0.9,26.05)(1.2,26.15)(1.5,26.0)(1.8,26.15)(2.1,26.05)(2.4,26.12)(2.7,26.02)(3.0,26.15)(3.3,26.05)(3.6,26.12)(3.9,26.02)(4.2,26.12)(4.5,26.05)(4.8,26.14)(5.1,26.06)(5.3,26.2)(5.45,25.6)(5.6,26.6)(5.75,25.3)(5.9,27.0)(6.05,25.8)(6.2,26.4)(6.4,27.4)(6.6,25.0)(6.8,27.9)(7.0,24.2)(7.2,28.6)(7.4,24.8)(7.6,29.5)(7.8,23.8)(8.0,28.2)(8.2,24.4)(8.4,30.2)(8.6,23.2)(8.8,28.8)(9.0,22.6)(9.2,27.4)(9.4,24.0)(9.6,29.4)(9.8,22.9)(10.0,27.8)(10.2,23.4)(10.4,30.4)(10.6,24.5)(10.8,31.2)(11.0,23.0)(11.2,28.1)(11.4,22.4)(11.6,29.0)(11.8,23.7)(12.0,27.2)(12.2,22.8)(12.4,28.6)(12.7,30.3)(12.9,23.5)(13.1,28.0)(13.3,22.6)(13.5,27.5)(13.7,24.1)(13.9,29.3)(14.1,23.0)(14.4,31.0)(14.6,24.3)(14.8,28.4)(15.0,22.8)(15.2,32.4)(15.45,26.5)(15.7,32.5)(15.9,24.0)(16.1,28.6)(16.3,22.5)(16.5,27.0)(16.7,23.6)(16.9,30.2)(17.1,24.4)(17.3,28.2)(17.5,23.0)(17.7,29.3)(18.0,31.4)(18.2,24.8)(18.4,27.2)(18.6,23.6)(18.8,30.5)(19.0,38.4)(19.2,30.0)(19.35,25.5)(19.5,34.9)(19.7,28.5)(19.9,24.0)(20.1,29.0)(20.3,23.2)(20.5,27.6)(20.7,22.7)(20.9,28.8)(21.1,24.2)(21.3,29.5)(21.5,25.0)(21.75,31.0)(22.0,38.4)(22.2,30.5)(22.35,27.5)(22.5,34.0)(22.7,26.0)(22.9,23.4)(23.1,28.3)(23.3,24.5)(23.5,27.8)(23.7,23.0)(23.9,29.0)(24.1,25.2)(24.4,30.6)(24.6,24.0)(24.8,28.5)(25.0,23.2)(25.2,27.6)(25.4,24.6)(25.6,29.6)(25.8,23.8)(26.0,28.1)(26.2,22.9)(26.4,27.4)(26.6,24.7)(26.8,29.4)(27.0,26.0)(27.2,33.4)(27.4,28.0)(27.6,23.8)(27.8,27.9)(28.0,24.3)(28.3,30.1)(28.6,31.9)(28.8,25.0)(29.0,27.5)(29.2,23.0)(29.4,28.7)(29.6,24.4)(29.8,30.4)(30,27.0)};
\addplot[pblue, line width=2.4bp] coordinates {(2.3,8.98)(6.18,30.9)};
\addplot[pblue, line width=1bp] coordinates {(5.28,16.5)(7.78,30.9)};
\draw[frame] (axis cs:0,-2) -- (axis cs:0,32) -- (axis cs:30,32);
\node[val] at (axis cs:30,-0.39) {3.93};
\node[val] at (axis cs:30,3.22) {−0.28};
\node[val] at (axis cs:30,7.84) {−0.19};
\node[val] at (axis cs:30,9.7) {−0.07};
\node[val] at (axis cs:30,15.18) {−0.06};
\node[val] at (axis cs:30,18.8) {−0.02};
\node[val] at (axis cs:30,20.67) {−0.01};
\node[val] at (axis cs:30,25.46) {−0.004};
\end{axis}
% ===================== free text =====================
\node[anchor=mid west, inner sep=0pt, font=\fObs] at (11bp,652bp) {Obs.};
\node[anchor=mid, inner sep=0pt, font=\fTitle] at (251bp,622bp) {Transverse};
\node[anchor=mid, inner sep=0pt, font=\fTitle] at (645.5bp,622bp) {Radial};
\node[anchor=mid, inner sep=0pt, font=\fTitle] at (1040.5bp,622bp) {Vertical};
\node[anchor=mid, inner sep=0pt, font=\fAx] at (17bp,610bp) {A};
\node[anchor=mid, inner sep=0pt, font=\fAx] at (19bp,82bp) {A’};
\node[anchor=mid, inner sep=0pt, font=\fAx, rotate=90] at (22bp,347bp) {Distance [km]};
\node[anchor=mid, inner sep=0pt, font=\fAx] at (251.5bp,54bp) {Time [s]};
\node[anchor=mid, inner sep=0pt, font=\fAx] at (645.5bp,54bp) {Time [s]};
\node[anchor=mid, inner sep=0pt, font=\fAx] at (1039.5bp,54bp) {Time [s]};
\node[anchor=mid, inner sep=0pt, font=\fAnn, text=sred] at (231bp,104.5bp) {≈4 s};
\node[anchor=mid, inner sep=0pt, font=\fSP, text=sred] at (215bp,79bp) {S0};
\node[anchor=mid, inner sep=0pt, font=\fSP, text=sred] at (262bp,79bp) {S1};
\node[anchor=mid, inner sep=0pt, font=\fAnn, text=pblue] at (942bp,104.5bp) {≈2 s};
\node[anchor=mid, inner sep=0pt, font=\fSP, text=pblue] at (927.5bp,80bp) {P0};
\node[anchor=mid, inner sep=0pt, font=\fSP, text=pblue] at (959bp,80bp) {P1};
\end{tikzpicture}
\end{document}
